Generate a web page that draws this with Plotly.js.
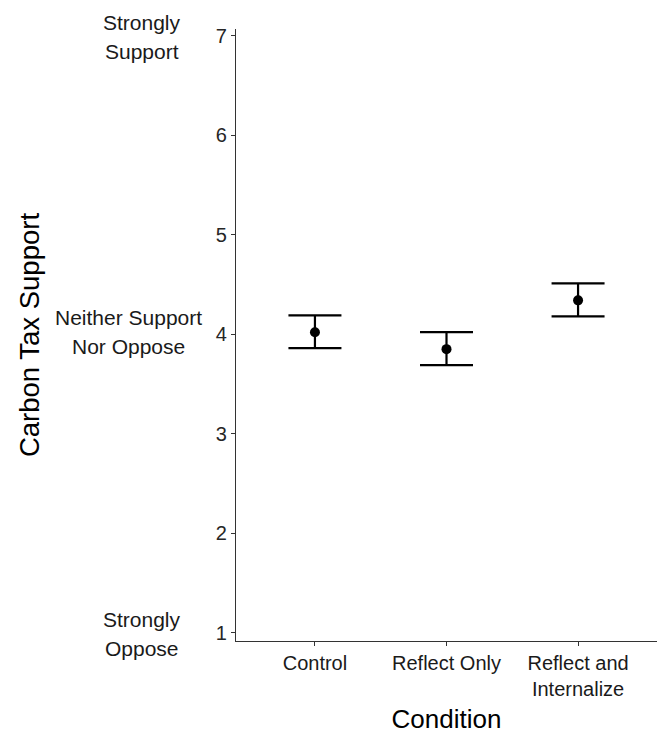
<!DOCTYPE html>
<html>
<head>
<meta charset="utf-8">
<script src="https://cdn.plot.ly/plotly-3.0.1.min.js"></script>
<style>html,body{margin:0;padding:0;background:#fff;}#chart{width:664px;height:734px;}</style>
</head>
<body>
<div id="chart"></div>
<script>
// Data
const conditions = ["Control", "Reflect Only", "Reflect and<br>Internalize"];
const meanSupport = [4.02, 3.85, 4.34];
const upperCI = [4.19, 4.02, 4.51];
const lowerCI = [3.86, 3.69, 4.18];
const yTickValues = [1, 2, 3, 4, 5, 6, 7];
const anchorValues = [7, 4, 1];
const anchorLines = [["Strongly", "Support"], ["Neither Support", "Nor Oppose"], ["Strongly", "Oppose"]];

const xIdx = conditions.map((c, i) => i + 1);
const errPlus = upperCI.map((u, i) => u - meanSupport[i]);
const errMinus = lowerCI.map((l, i) => meanSupport[i] - l);

const trace = {
  type: "scatter",
  mode: "markers",
  x: xIdx,
  y: meanSupport,
  marker: {color: "#000", size: 10},
  error_y: {
    type: "data",
    symmetric: false,
    array: errPlus,
    arrayminus: errMinus,
    color: "#000",
    thickness: 2.2,
    width: 26.5
  },
  hoverinfo: "skip",
  showlegend: false
};

// label placement (paper x, pixel shifts per line)
const annX = [-0.224, -0.255, -0.224];
const annShift = [[13, -16], [16.5, -12.5], [13, -16]];
const annotations = [];
anchorValues.forEach((v, i) => {
  anchorLines[i].forEach((t, j) => {
    annotations.push({
      xref: "paper", yref: "y",
      x: annX[i], y: v,
      text: t, showarrow: false,
      xanchor: "center", yanchor: "middle",
      yshift: annShift[i][j],
      font: {family: "Liberation Sans, Arial, sans-serif", size: 21, color: "#1a1a1a"}
    });
  });
});

const layout = {
  width: 664, height: 734,
  margin: {l: 236, r: 7, t: 29, b: 93},
  paper_bgcolor: "#fff", plot_bgcolor: "#fff",
  font: {family: "Liberation Sans, Arial, sans-serif", color: "#1a1a1a"},
  xaxis: {
    range: [0.4, 3.6],
    tickmode: "array",
    tickvals: xIdx,
    ticktext: conditions,
    showgrid: false, zeroline: false,
    showline: true, linecolor: "#333", linewidth: 1.2,
    ticks: "outside", ticklen: 4, tickwidth: 1.1, tickcolor: "#333",
    tickfont: {size: 20, color: "#1a1a1a"},
    title: {text: "Condition", font: {size: 26, color: "#000"}, standoff: 14}
  },
  yaxis: {
    range: [0.917, 7.067],
    tickmode: "array",
    tickvals: yTickValues,
    ticktext: yTickValues.map(String),
    showgrid: false, zeroline: false,
    showline: true, linecolor: "#333", linewidth: 1.2,
    ticks: "outside", ticklen: 4, tickwidth: 1.1, tickcolor: "#333",
    tickfont: {size: 20, color: "#262626"},
    title: {text: "Carbon Tax Support", font: {size: 27.5, color: "#000"}, standoff: 168}
  },
  annotations: annotations
};

Plotly.newPlot("chart", [trace], layout, {displayModeBar: false, staticPlot: true});
</script>
</body>
</html>
